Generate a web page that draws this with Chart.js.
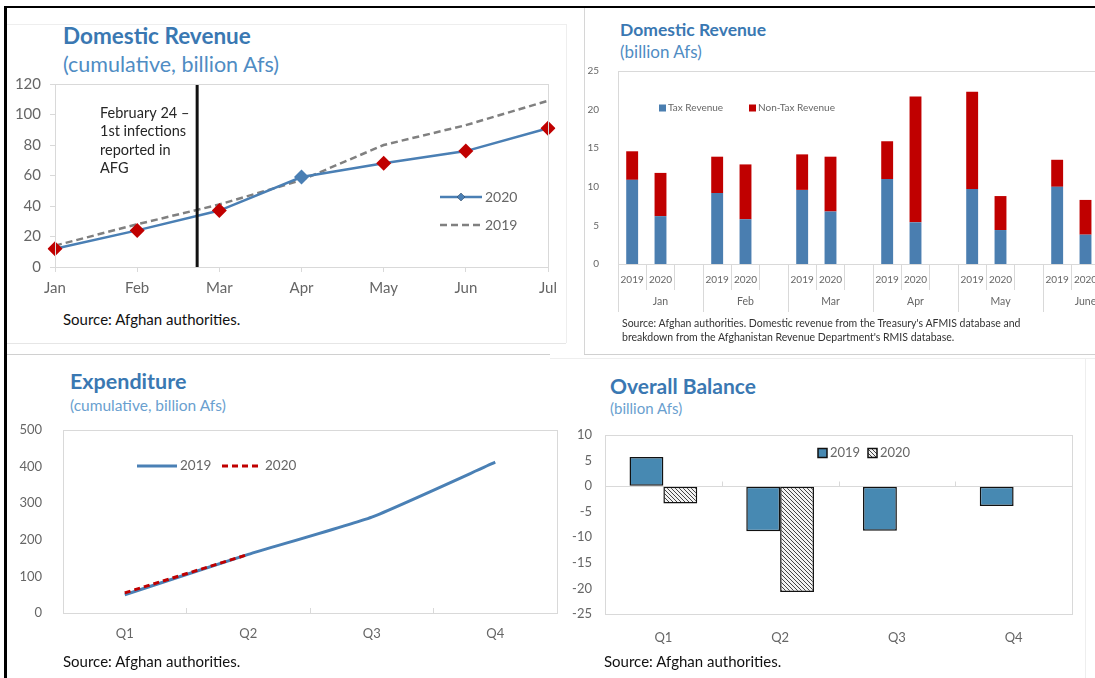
<!DOCTYPE html>
<html>
<head>
<meta charset="utf-8">
<script src="https://cdn.jsdelivr.net/npm/chart.js@4.4.1/dist/chart.umd.min.js"></script>
<style>
  html, body { margin: 0; padding: 0; background: #fff; }
  #page { position: relative; width: 1095px; height: 678px; overflow: hidden; font-family: Lato, 'Open Sans', sans-serif; }
  #page canvas { position: absolute; }
  .title { position: absolute; color: #3a78b2; font-weight: bold; white-space: nowrap; line-height: 1; }
  .sub { position: absolute; color: #4f8cc3; white-space: nowrap; line-height: 1; }
  .src { position: absolute; color: #111; white-space: nowrap; line-height: 1; }
  .rule { position: absolute; }
</style>
</head>
<body>
<div id="page">
  <!-- frame lines -->
  <div class="rule" style="left:5px;top:6px;width:1090px;height:2px;background:#000"></div>
  <div class="rule" style="left:4px;top:6px;width:3px;height:672px;background:#000"></div>
  <div class="rule" style="left:7px;top:24px;width:559px;height:1px;background:#eee"></div>
  <div class="rule" style="left:566px;top:24px;width:1px;height:319px;background:#eee"></div>
  <div class="rule" style="left:7px;top:343px;width:559px;height:1px;background:#e6e6e6"></div>
  <div class="rule" style="left:7px;top:354px;width:543px;height:1px;background:#d0d0d0"></div>
  <div class="rule" style="left:584px;top:8px;width:1px;height:346px;background:#d6d6d6"></div>
  <div class="rule" style="left:584px;top:354px;width:511px;height:1px;background:#d0d0d0"></div>
  <div class="rule" style="left:550px;top:358px;width:545px;height:1px;background:#eee"></div>
  <div class="rule" style="left:1085px;top:359px;width:1px;height:319px;background:#eee"></div>

  <!-- panel 1 -->
  <div class="title" style="left:63px;top:25px;font-size:22.5px">Domestic Revenue</div>
  <div class="sub" style="left:63px;top:54px;font-size:21.5px">(cumulative, billion Afs)</div>
  <canvas id="cumRevenue" width="580" height="240" style="left:0;top:70px;width:580px;height:240px"></canvas>
  <div class="src" style="left:63px;top:312px;font-size:15px">Source: Afghan authorities.</div>

  <!-- panel 2 -->
  <div class="title" style="left:620px;top:21px;font-size:17.5px">Domestic Revenue</div>
  <div class="sub" style="left:620px;top:43px;font-size:17px">(billion Afs)</div>
  <canvas id="monthlyRevenue" width="560" height="260" style="left:585px;top:60px;width:560px;height:260px"></canvas>
  <div class="src" style="left:622px;top:316px;font-size:10.5px;line-height:14px;color:#333">Source: Afghan authorities. Domestic revenue from the Treasury's AFMIS database and<br>breakdown from the Afghanistan Revenue Department's RMIS database.</div>

  <!-- panel 3 -->
  <div class="title" style="left:70px;top:371px;font-size:21.5px">Expenditure</div>
  <div class="sub" style="left:70px;top:398px;font-size:15.5px;color:#6a9fcf">(cumulative, billion Afs)</div>
  <canvas id="expenditure" width="580" height="240" style="left:0;top:420px;width:580px;height:240px"></canvas>
  <div class="src" style="left:63px;top:654px;font-size:15px">Source: Afghan authorities.</div>

  <!-- panel 4 -->
  <div class="title" style="left:610px;top:375px;font-size:21px">Overall Balance</div>
  <div class="sub" style="left:610px;top:401px;font-size:15px;color:#6a9fcf">(billion Afs)</div>
  <canvas id="balance" width="540" height="240" style="left:555px;top:420px;width:540px;height:240px"></canvas>
  <div class="src" style="left:604px;top:654px;font-size:15px">Source: Afghan authorities.</div>
</div>

<script>
// ---- data ----
const months = ['Jan', 'Feb', 'Mar', 'Apr', 'May', 'Jun', 'Jul'];
const cumRevenue2020 = [12, 24, 37, 59, 68, 76, 91];
const cumRevenue2019 = [14, 28, 41, 57, 80, 93, 109];
const firstInfection = 1.73; // Feb 24, as a position between Feb and Mar

const revMonths = ['Jan', 'Feb', 'Mar', 'Apr', 'May', 'June'];
const yearSlots = ['2019', '2020', ''];
const tax2019 = [10.9, 9.2, 9.6, 11.0, 9.7, 10.0];
const tax2020 = [6.2, 5.8, 6.8, 5.4, 4.4, 3.8];
const nonTax2019 = [3.7, 4.7, 4.6, 4.9, 12.6, 3.5];
const nonTax2020 = [5.6, 7.1, 7.1, 16.3, 4.4, 4.5];

const quarters = ['Q1', 'Q2', 'Q3', 'Q4'];
const spend2019 = [50, 160, 262, 412];
const spend2020 = [55, 160, null, null];

const balance2019 = [5.7, -8.8, -8.7, -3.9];
const balance2020 = [-3.4, -20.7, null, null];

// ---- shared styling ----
const FONT = "Lato, 'Open Sans', sans-serif";
const TICK = '#666';
const LINE = '#d9d9d9';
const BLUE = '#4a7fb4';
const RED = '#c00000';

Chart.defaults.font.family = FONT;
Chart.defaults.color = TICK;
Chart.defaults.animation = false;
Chart.defaults.responsive = false;
Chart.defaults.plugins.legend.display = false;
Chart.defaults.plugins.tooltip.enabled = false;

// fixed axis sizes so the plot areas line up with the picture
function fixWidth(w) { return s => { s.width = w; s.paddingTop = 0; s.paddingBottom = 0; }; }
function fixHeight(h) { return s => { s.height = h; }; }

// light box around the plot area
const frame = {
    id: 'frame',
    afterDraw(chart) {
        const a = chart.chartArea, ctx = chart.ctx;
        ctx.save();
        ctx.strokeStyle = LINE;
        ctx.lineWidth = 1;
        ctx.strokeRect(Math.round(a.left) + 0.5, Math.round(a.top) + 0.5, Math.round(a.right - a.left), Math.round(a.bottom - a.top));
        ctx.restore();
    }
};

// legend drawn inside the plot, positions in canvas pixels
function inlineLegend(items, font, gap) {
    return {
        id: 'inlineLegend',
        afterDraw(chart) {
            const ctx = chart.ctx;
            ctx.save();
            ctx.font = font;
            ctx.textBaseline = 'middle';
            items.forEach(it => {
                const ds = chart.data.datasets[it.dataset];
                if (it.type === 'line') {
                    ctx.strokeStyle = ds.borderColor;
                    ctx.lineWidth = ds.borderWidth;
                    ctx.setLineDash(ds.borderDash || []);
                    ctx.beginPath();
                    ctx.moveTo(it.x, it.y);
                    ctx.lineTo(it.x + it.w, it.y);
                    ctx.stroke();
                    ctx.setLineDash([]);
                    if (it.marker) {
                        Chart.helpers.drawPoint(ctx, {pointStyle: 'rectRot', radius: it.marker, borderWidth: 0}, it.x + it.w / 2, it.y);
                        ctx.fillStyle = ds.borderColor;
                        ctx.fill();
                    }
                } else {
                    ctx.fillStyle = ds.backgroundColor;
                    ctx.fillRect(it.x, it.y - it.w / 2, it.w, it.w);
                    if (ds.borderWidth) {
                        ctx.strokeStyle = ds.borderColor;
                        ctx.lineWidth = ds.borderWidth;
                        ctx.strokeRect(it.x, it.y - it.w / 2, it.w, it.w);
                    }
                }
                ctx.fillStyle = TICK;
                ctx.fillText(ds.label, it.x + it.w + gap, it.y);
            });
            ctx.restore();
        }
    };
}

// ---- 1. cumulative domestic revenue ----
const firstCase = {
    id: 'firstCase',
    afterDatasetsDraw(chart) {
        const ctx = chart.ctx, a = chart.chartArea;
        const x = chart.scales.x.getPixelForValue(firstInfection);
        ctx.save();
        ctx.strokeStyle = '#111';
        ctx.lineWidth = 3;
        ctx.beginPath();
        ctx.moveTo(x, a.top);
        ctx.lineTo(x, a.bottom);
        ctx.stroke();
        ctx.fillStyle = '#262626';
        ctx.font = '14.5px ' + FONT;
        ctx.textBaseline = 'middle';
        ['February 24 \u2013', '1st infections', 'reported in', 'AFG'].forEach((t, i) => {
            ctx.fillText(t, 100, 43 + i * 18.5);
        });
        ctx.restore();
    }
};

new Chart(document.getElementById('cumRevenue'), {
    type: 'line',
    data: {
        labels: months,
        datasets: [
            {
                label: '2020',
                data: cumRevenue2020,
                borderColor: BLUE,
                borderWidth: 2.5,
                pointStyle: 'rectRot',
                pointRadius: 7.5,
                pointBorderWidth: 0,
                pointBackgroundColor: months.map(m => m === 'Apr' ? BLUE : RED),
                order: 1
            },
            {
                label: '2019',
                data: cumRevenue2019,
                borderColor: '#808080',
                borderWidth: 2.5,
                borderDash: [7, 4],
                pointRadius: 0,
                order: 2
            }
        ]
    },
    options: {
        layout: {padding: {top: 14, right: 32, left: 0, bottom: 0}},
        scales: {
            x: {
                offset: false,
                grid: {drawOnChartArea: false, tickLength: 5, color: LINE},
                border: {color: LINE},
                ticks: {font: {size: 15}, padding: 7, maxRotation: 0},
                afterFit: fixHeight(43)
            },
            y: {
                min: 0, max: 120,
                ticks: {stepSize: 20, font: {size: 15}, padding: 9},
                grid: {drawOnChartArea: false, tickLength: 5, color: LINE},
                border: {color: LINE},
                afterFit: fixWidth(55)
            }
        }
    },
    plugins: [frame, firstCase, inlineLegend([
        {dataset: 0, type: 'line', x: 440, y: 127, w: 42, marker: 4},
        {dataset: 1, type: 'line', x: 440, y: 155, w: 42}
    ], '14px ' + FONT, 3)]
});

// ---- 2. monthly domestic revenue, 2019 vs 2020 ----
const slotLabels = revMonths.flatMap(() => yearSlots);
const taxSlots = revMonths.flatMap((m, i) => [tax2019[i], tax2020[i], null]);
const nonTaxSlots = revMonths.flatMap((m, i) => [nonTax2019[i], nonTax2020[i], null]);

new Chart(document.getElementById('monthlyRevenue'), {
    type: 'bar',
    data: {
        labels: slotLabels,
        datasets: [
            {label: 'Tax Revenue', data: taxSlots, backgroundColor: '#4a7eb0'},
            {label: 'Non-Tax Revenue', data: nonTaxSlots, backgroundColor: RED}
        ]
    },
    options: {
        layout: {padding: {top: 11, right: 17, left: 0, bottom: 8}},
        datasets: {bar: {barPercentage: 0.42, categoryPercentage: 1}},
        scales: {
            x: {
                stacked: true,
                grid: {drawOnChartArea: false, offset: true, tickLength: 26, color: LINE},
                border: {color: LINE},
                ticks: {font: {size: 10}, padding: -16, maxRotation: 0, autoSkip: false},
                afterFit: fixHeight(26)
            },
            x2: {
                type: 'category',
                labels: revMonths,
                offset: true,
                grid: {drawOnChartArea: false, offset: true, tickLength: 22, color: LINE},
                border: {display: false},
                ticks: {font: {size: 10.5}, padding: -17, maxRotation: 0},
                afterFit: fixHeight(22)
            },
            y: {
                stacked: true,
                min: 0, max: 25,
                ticks: {stepSize: 5, font: {size: 10}, padding: 11},
                grid: {display: false},
                border: {color: LINE},
                afterFit: fixWidth(33)
            }
        }
    },
    plugins: [frame, inlineLegend([
        {dataset: 0, type: 'box', x: 74, y: 48, w: 7},
        {dataset: 1, type: 'box', x: 164, y: 48, w: 7}
    ], '10px ' + FONT, 2)]
});

// ---- 3. cumulative expenditure ----
new Chart(document.getElementById('expenditure'), {
    type: 'line',
    data: {
        labels: quarters,
        datasets: [
            {label: '2019', data: spend2019, borderColor: '#4a80b5', borderWidth: 3, pointRadius: 0, tension: 0.15, order: 2},
            {label: '2020', data: spend2020, borderColor: RED, borderWidth: 3, borderDash: [6, 4], pointRadius: 0, order: 1}
        ]
    },
    options: {
        layout: {padding: {top: 10, right: 23, left: 0, bottom: 0}},
        scales: {
            x: {
                offset: true,
                grid: {drawOnChartArea: false, offset: true, tickLength: -5, color: LINE},
                border: {color: LINE},
                ticks: {font: {size: 13}, padding: 18},
                afterFit: fixHeight(47)
            },
            y: {
                min: 0, max: 500,
                ticks: {stepSize: 100, font: {size: 13}, padding: 13},
                grid: {display: false},
                border: {color: LINE},
                afterFit: fixWidth(63)
            }
        }
    },
    plugins: [frame, inlineLegend([
        {dataset: 0, type: 'line', x: 137, y: 46, w: 40},
        {dataset: 1, type: 'line', x: 222, y: 46, w: 40}
    ], '13.5px ' + FONT, 3)]
});

// ---- 4. overall balance ----
function hatchPattern() {
    const c = document.createElement('canvas');
    c.width = 4; c.height = 4;
    const g = c.getContext('2d');
    g.fillStyle = '#f2f2f2';
    g.fillRect(0, 0, 4, 4);
    g.strokeStyle = '#444';
    g.lineWidth = 1;
    g.beginPath();
    g.moveTo(-1, -1); g.lineTo(5, 5);
    g.moveTo(-1, 3); g.lineTo(1, 5);
    g.moveTo(3, -1); g.lineTo(5, 1);
    g.stroke();
    return g.createPattern(c, 'repeat');
}

// short marks on the zero line between quarters
const zeroTicks = {
    id: 'zeroTicks',
    beforeDatasetsDraw(chart) {
        const ctx = chart.ctx, x = chart.scales.x;
        const y0 = Math.round(chart.scales.y.getPixelForValue(0)) + 0.5;
        ctx.save();
        ctx.strokeStyle = LINE;
        ctx.lineWidth = 1;
        ctx.beginPath();
        for (let i = 1; i < quarters.length; i++) {
            const px = Math.round(x.getPixelForValue(i - 0.5)) + 0.5;
            ctx.moveTo(px, y0 - 5);
            ctx.lineTo(px, y0);
        }
        ctx.stroke();
        ctx.restore();
    }
};

new Chart(document.getElementById('balance'), {
    type: 'bar',
    data: {
        labels: quarters,
        datasets: [
            {label: '2019', data: balance2019, backgroundColor: '#4789b2', borderColor: '#111', borderWidth: 1.5, borderSkipped: false},
            {label: '2020', data: balance2020, backgroundColor: hatchPattern(), borderColor: '#111', borderWidth: 1.5, borderSkipped: false}
        ]
    },
    options: {
        layout: {padding: {top: 15, right: 23, left: 0, bottom: 0}},
        datasets: {bar: {barPercentage: 1, categoryPercentage: 0.58}},
        scales: {
            x: {
                grid: {drawOnChartArea: false, drawTicks: false},
                border: {color: LINE},
                ticks: {font: {size: 13}, padding: 16},
                afterFit: fixHeight(46)
            },
            y: {
                min: -25, max: 10,
                ticks: {stepSize: 5, font: {size: 13}, padding: 13},
                grid: {drawTicks: false, color: ctx => ctx.tick && ctx.tick.value === 0 ? LINE : 'rgba(0,0,0,0)'},
                border: {color: LINE},
                afterFit: fixWidth(50)
            }
        }
    },
    plugins: [frame, zeroTicks, inlineLegend([
        {dataset: 0, type: 'box', x: 263, y: 33, w: 9},
        {dataset: 1, type: 'box', x: 313, y: 33, w: 9}
    ], '13px ' + FONT, 3)]
});
</script>
</body>
</html>
